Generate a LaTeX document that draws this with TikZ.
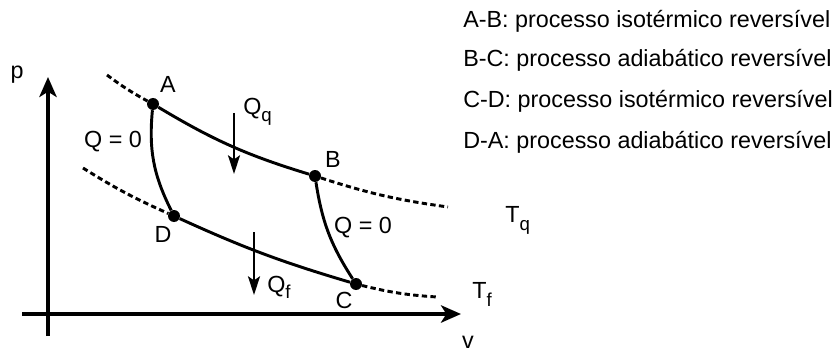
\documentclass[tikz,border=0pt]{standalone}
\usepackage{fontspec}
\setmainfont{Liberation Sans}
\usepackage{tikz}
\usetikzlibrary{arrows.meta}

\newcommand{\lowsub}[2][5pt]{\raisebox{-#1}{\fontsize{14}{14}\selectfont #2}}

\begin{document}
\begin{tikzpicture}[
        x=0.75pt, y=-0.75pt,
        font=\fontsize{17.5}{21}\selectfont,
        point/.style={circle, fill, inner sep=0pt, minimum size=9pt},
        lbl/.style={inner sep=0pt, anchor=base},
        legend/.style={inner sep=0pt, anchor=base west},
        axis/.style={line width=3.5pt, -{Stealth[length=15pt, width=13pt, inset=4pt]}},
        procline/.style={line width=2.2pt},
        isotherm/.style={line width=2.2pt, dash pattern=on 4pt off 2.5pt},
        heat/.style={line width=1.6pt, -{Stealth[length=14pt, width=9pt, inset=3pt]}}
    ]
        \useasboundingbox (0,0) rectangle (836,353);

        % axes
        \coordinate (ybot) at (48,336);
        \coordinate (ytop) at (48,77);
        \coordinate (xleft) at (22,314);
        \coordinate (xright) at (461,314);
        \draw[axis] (ybot) -- (ytop);
        \draw[axis] (xleft) -- (xright);
        \node[lbl] (plabel) at (17,79) {p};
        \node[lbl] (vlabel) at (468,348) {v};

        % states of the cycle
        \node[point] (A) at (153,104) {};
        \node[point] (B) at (315,176) {};
        \node[point] (C) at (356,284) {};
        \node[point] (D) at (174,216) {};
        \node[lbl] (Alabel) at (168,93) {A};
        \node[lbl] (Blabel) at (333,167) {B};
        \node[lbl] (Clabel) at (344,308) {C};
        \node[lbl] (Dlabel) at (163,242) {D};

        \draw[procline] (A) to[bend right=7] (B);
        \draw[procline] (B) to[bend right=12] (C);
        \draw[procline] (C) to[bend left=4] (D);
        \draw[procline] (D) to[bend left=16] (A);

        % isotherms
        \coordinate (hotstart) at (107,75);
        \coordinate (hotend) at (448,207);
        \coordinate (coldstart) at (83,168);
        \coordinate (coldend) at (437,297);
        \draw[isotherm] (hotstart) to[bend right=4] (A);
        \draw[isotherm] (B) to[bend right=5] (hotend);
        \draw[isotherm] (coldstart) to[bend right=4] (D);
        \draw[isotherm] (C) to[bend right=5] (coldend);
        \node[legend] (Tq) at (505,222) {T\lowsub[6pt]{q}};
        \node[legend] (Tf) at (472,298) {T\lowsub[6pt]{f}};

        % heat flows
        \coordinate (qqtop) at (234,113);
        \coordinate (qqbot) at (234,174);
        \coordinate (qftop) at (254,232);
        \coordinate (qfbot) at (254,295);
        \draw[heat] (qqtop) -- (qqbot);
        \draw[heat] (qftop) -- (qfbot);
        \node[legend] (Qq) at (243,115) {Q\lowsub{q}};
        \node[legend] (Qf) at (267,292) {Q\lowsub{f}};
        \node[lbl] (adleft) at (113,147) {Q = 0};
        \node[lbl] (adright) at (363,233) {Q = 0};

        % legend
        \node[legend] (leg1) at (463,28) {A-B: processo isotérmico reversível};
        \node[legend] (leg2) at (463,67) {B-C: processo adiabático reversível};
        \node[legend] (leg3) at (463,108) {C-D: processo isotérmico reversível};
        \node[legend] (leg4) at (463,148) {D-A: processo adiabático reversível};
    \end{tikzpicture}
\end{document}
